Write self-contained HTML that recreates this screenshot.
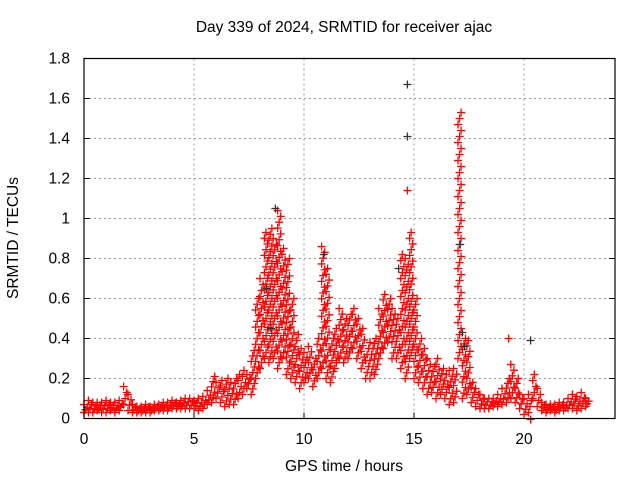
<!DOCTYPE html>
<html><head><meta charset="utf-8"><style>
body{margin:0;background:#fff}
svg{display:block;font-family:"Liberation Sans",sans-serif;font-size:15.5px}
</style></head><body>
<svg id="chart" width="640" height="480">
<text x="344" y="32" text-anchor="middle">Day 339 of 2024, SRMTID for receiver ajac</text>
<text x="344" y="471" text-anchor="middle">GPS time / hours</text>
<text transform="translate(18,238) rotate(-90)" text-anchor="middle">SRMTID / TECUs</text>
<g id="grid"></g>
<g id="ticks"></g>
<g id="marks"></g>
<rect x="84" y="58.5" width="531" height="360" fill="none" stroke="#000" stroke-width="1.2"/>
</svg>
<script>
const times=[0,0.2,0.4,0.6,0.8,1.0,1.2,1.4,1.6,1.8,2.0,2.2,2.4,2.6,2.8,3.0,3.2,3.4,3.6,3.8,4.0,4.2,4.4,4.6,4.8,5.0,5.2,5.4,5.6,5.8,6.0,6.2,6.4,6.6,6.8,7.0,7.2,7.4,7.6,7.8,8.0,8.2,8.4,8.6,8.8,9.0,9.2,9.4,9.6,9.8,10.0,10.2,10.4,10.6,10.8,11.0,11.2,11.4,11.6,11.8,12.0,12.2,12.4,12.6,12.8,13.0,13.2,13.4,13.6,13.8,14.0,14.2,14.4,14.6,14.8,15.0,15.2,15.4,15.6,15.8,16.0,16.2,16.4,16.6,16.8,17.0,17.2,17.4,17.6,17.8,18.0,18.2,18.4,18.6,18.8,19.0,19.2,19.4,19.6,19.8,20.0,20.2,20.4,20.6,20.8,21.0,21.2,21.4,21.6,21.8,22.0,22.2,22.4,22.6,22.8];
const lowVals=[0.03,0.03,0.03,0.04,0.03,0.03,0.04,0.03,0.04,0.07,0.04,0.03,0.03,0.03,0.03,0.03,0.04,0.04,0.04,0.04,0.05,0.05,0.05,0.05,0.05,0.05,0.04,0.05,0.07,0.08,0.1,0.08,0.06,0.07,0.07,0.1,0.12,0.15,0.12,0.2,0.25,0.3,0.28,0.3,0.25,0.3,0.22,0.2,0.18,0.15,0.18,0.2,0.16,0.2,0.25,0.2,0.18,0.25,0.3,0.28,0.3,0.35,0.3,0.25,0.2,0.2,0.22,0.3,0.35,0.38,0.3,0.3,0.25,0.2,0.3,0.2,0.18,0.15,0.12,0.13,0.1,0.12,0.1,0.07,0.08,0.3,0.1,0.12,0.08,0.06,0.05,0.05,0.05,0.06,0.06,0.07,0.08,0.1,0.08,0.05,0.02,0.03,0.1,0.06,0.04,0.03,0.04,0.03,0.04,0.04,0.05,0.05,0.04,0.05,0.06];
const highVals=[0.07,0.09,0.08,0.08,0.08,0.09,0.08,0.08,0.09,0.16,0.12,0.07,0.06,0.06,0.07,0.06,0.07,0.07,0.08,0.08,0.09,0.08,0.09,0.1,0.1,0.09,0.1,0.11,0.14,0.21,0.18,0.19,0.2,0.18,0.2,0.22,0.24,0.22,0.34,0.6,0.7,0.93,0.95,0.9,1.04,0.85,0.8,0.6,0.42,0.35,0.33,0.36,0.3,0.4,0.86,0.75,0.4,0.45,0.55,0.5,0.52,0.55,0.5,0.45,0.35,0.38,0.4,0.55,0.62,0.6,0.55,0.5,0.82,0.8,0.93,0.6,0.4,0.35,0.3,0.26,0.3,0.25,0.22,0.24,0.25,1.53,0.4,0.39,0.18,0.15,0.12,0.1,0.1,0.1,0.12,0.15,0.2,0.27,0.2,0.12,0.1,0.12,0.22,0.15,0.08,0.07,0.07,0.07,0.08,0.08,0.1,0.12,0.11,0.13,0.1];
const redOutT=[14.7,19.3,20.3];
const redOutV=[1.14,0.4,-0.005];
const blackT=[14.7,14.7,20.3,8.7,14.3,17.1,17.2,17.3,10.9,8.5,8.3];
const blackV=[1.67,1.41,0.39,1.05,0.75,0.87,0.43,0.36,0.82,0.45,0.65];
const xTicks=[0,5,10,15,20];
const yTicks=[0,0.2,0.4,0.6,0.8,1,1.2,1.4,1.6,1.8];

const NS="http://www.w3.org/2000/svg";
const X=t=>84+t*22;
const Y=v=>418.5-v*200;
const grid=document.getElementById('grid'),ticks=document.getElementById('ticks'),marks=document.getElementById('marks');
function mk(tag,attrs,parent){const e=document.createElementNS(NS,tag);for(const k in attrs)e.setAttribute(k,attrs[k]);parent.appendChild(e);return e;}
yTicks.forEach(v=>{
  if(v>0&&v<1.8){const g=mk('line',{x1:84,x2:615,y1:Y(v),y2:Y(v),stroke:'#999','stroke-dasharray':'2,3'},grid);
  
  }
  const tk=mk('line',{x1:84,x2:90,y1:Y(v),y2:Y(v),stroke:'#000'},ticks);
  
  
  mk('line',{x1:609,x2:615,y1:Y(v),y2:Y(v),stroke:'#000'},ticks);
  const t=mk('text',{x:70,y:Y(v)+5,'text-anchor':'end'},ticks);t.textContent=String(v);
  
  
});
xTicks.forEach(v=>{
  if(v>0){const g=mk('line',{x1:X(v),x2:X(v),y1:58.5,y2:418.5,stroke:'#999','stroke-dasharray':'2,3'},grid);
  
  }
  const tk=mk('line',{x1:X(v),x2:X(v),y1:412.5,y2:418.5,stroke:'#000'},ticks);
  
  
  const t=mk('text',{x:X(v),y:444,'text-anchor':'middle'},ticks);t.textContent=String(v);
  
  
});
function plus(t,v,col){
  const x=X(t),y=Y(v);
  const p=mk('path',{d:`M${x-4},${y}h8M${x},${y-4}v8`,stroke:col,'stroke-width':1.3,fill:'none'},marks);
  
  
}
times.forEach((t,i)=>{
  const lo=lowVals[i],hi=highVals[i];
  const n=Math.max(3,Math.ceil((hi-lo)/0.03));
  for(let k=0;k<=n;k++){
    const v=lo+(hi-lo)*k/n;
    plus(t+(k%3)*0.07,v,'#f00');
  }
});
redOutT.forEach((t,i)=>plus(t,redOutV[i],'#f00'));
blackT.forEach((t,i)=>plus(t,blackV[i],'#333'));
</script>
</body></html>
